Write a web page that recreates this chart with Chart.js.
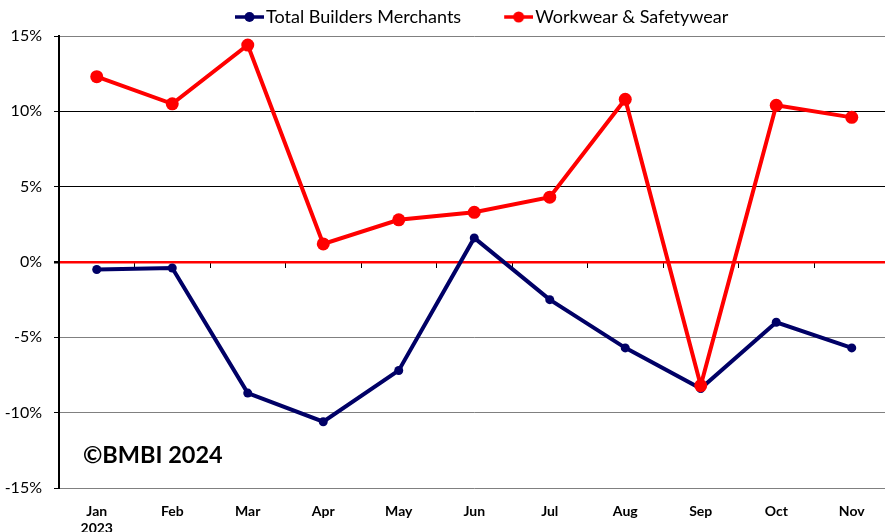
<!DOCTYPE html>
<html>
<head>
<meta charset="utf-8">
<script src="https://cdn.jsdelivr.net/npm/chart.js@4"></script>
<style>
  html, body { margin: 0; padding: 0; background: #fff; overflow: hidden; }
</style>
</head>
<body>
<canvas id="grafico" width="896" height="532"></canvas>
<script>
const meses = [['Jan', '2023'], 'Feb', 'Mar', 'Apr', 'May', 'Jun', 'Jul', 'Aug', 'Sep', 'Oct', 'Nov']
const totalBuilders = [-0.5, -0.4, -8.7, -10.6, -7.2, 1.6, -2.5, -5.7, -8.4, -4.0, -5.7]
const workwear = [12.3, 10.5, 14.4, 1.2, 2.8, 3.3, 4.3, 10.8, -8.2, 10.4, 9.6]
const yTicks = [-15, -10, -5, 0, 5, 10, 15]

const fonte = 'Lato, "Liberation Sans", sans-serif'
const azul = '#000066'
const vermelho = '#ff0000'

// little line+dot images for the legend (left part kept empty for spacing)
function marcador(cor, raio) {
    let c = document.createElement('canvas')
    c.width = 71
    c.height = 14
    let g = c.getContext('2d')
    g.strokeStyle = cor
    g.lineWidth = 3.5
    g.beginPath()
    g.moveTo(42, 7)
    g.lineTo(71, 7)
    g.stroke()
    g.fillStyle = cor
    g.beginPath()
    g.arc(56.5, 7, raio, 0, Math.PI * 2)
    g.fill()
    return c
}
const marcadores = [marcador(azul, 5), marcador(vermelho, 5.5)]

const moverLegenda = {
    id: 'moverLegenda',
    afterLayout(chart) {
        chart.legend.left += 192
        chart.legend.right += 192
    }
}

const marcaAgua = {
    id: 'marcaAgua',
    beforeDatasetsDraw(chart) {
        const ctx = chart.ctx
        const a = chart.chartArea
        ctx.save()
        ctx.font = 'bold 23.5px ' + fonte
        ctx.fillStyle = '#000'
        ctx.textBaseline = 'alphabetic'
        ctx.fillText('\u00A9BMBI 2024', a.left + 24, a.bottom - 25)
        ctx.restore()
    }
}

const contexto = document.getElementById('grafico').getContext('2d')

new Chart(contexto, {
    type: 'line',
    data: {
        labels: meses,
        datasets: [{
            label: 'Total Builders Merchants',
            data: totalBuilders,
            borderColor: azul,
            backgroundColor: azul,
            borderWidth: 4,
            pointRadius: 4.5,
            pointBorderWidth: 0,
            fill: false,
            tension: 0,
            order: 1
        }, {
            label: 'Workwear & Safetywear',
            data: workwear,
            borderColor: vermelho,
            backgroundColor: vermelho,
            borderWidth: 4,
            pointRadius: 6.5,
            pointBorderWidth: 0,
            fill: false,
            tension: 0,
            order: 0
        }]
    },
    options: {
        responsive: false,
        animation: false,
        layout: { padding: 0 },
        plugins: {
            tooltip: { enabled: false },
            legend: {
                position: 'top',
                align: 'start',
                labels: {
                    usePointStyle: true,
                    pointStyleWidth: 57,
                    padding: 8,
                    color: '#000',
                    font: { family: fonte, size: 18 },
                    sort: (a, b) => a.datasetIndex - b.datasetIndex,
                    generateLabels(chart) {
                        const itens = Chart.defaults.plugins.legend.labels.generateLabels(chart)
                        itens.forEach(i => { i.pointStyle = marcadores[i.datasetIndex] })
                        return itens
                    }
                }
            }
        },
        scales: {
            x: {
                offset: true,
                grid: { display: false, drawTicks: false },
                border: { display: false },
                ticks: {
                    color: '#000',
                    padding: 15,
                    maxRotation: 0,
                    font: { family: fonte, size: 14, weight: 'bold' }
                },
                afterFit(s) { s.height = 44 }
            },
            x0: {
                type: 'category',
                labels: meses,
                position: { y: 0 },
                offset: true,
                grid: { offset: true, drawOnChartArea: false, tickLength: 6, tickColor: '#000', lineWidth: 1 },
                border: { display: false },
                ticks: { display: false }
            },
            y: {
                min: -15,
                max: 15,
                afterBuildTicks(s) { s.ticks = yTicks.map(v => ({ value: v })) },
                border: { color: '#000', width: 2 },
                grid: {
                    color: c => c.tick.value === 0 ? vermelho : (c.tick.value > 0 && c.tick.value < 15 ? '#000' : '#808080'),
                    lineWidth: c => c.tick.value === 0 ? 2.5 : 1,
                    tickColor: '#000',
                    tickLength: 5
                },
                ticks: {
                    color: '#000',
                    padding: 12,
                    font: { family: fonte, size: 16 },
                    callback: v => v + '%'
                },
                afterFit(s) { s.width = 59 }
            }
        }
    },
    plugins: [moverLegenda, marcaAgua]
})
</script>
</body>
</html>
